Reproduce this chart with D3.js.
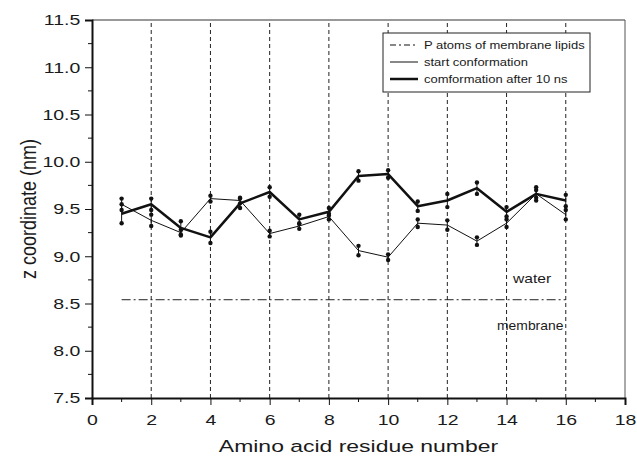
<!DOCTYPE html>
<html>
<head>
<meta charset="utf-8">
<script src="https://cdn.jsdelivr.net/npm/d3@7"></script>
<style>
  body { margin: 0; background: #fff; }
  svg text { font-family: "Liberation Sans", Arial, sans-serif; fill: #1a1a1a; }
</style>
</head>
<body>
<div id="chart"></div>
<script>
// residues along the peptide
var residues = [1, 2, 3, 4, 5, 6, 7, 8, 9, 10, 11, 12, 13, 14, 15, 16];
// start conformation (thin line), z in nm, and half error bar
var startZ   = [9.55, 9.38, 9.25, 9.61, 9.59, 9.24, 9.32, 9.42, 9.06, 8.99, 9.35, 9.33, 9.16, 9.35, 9.66, 9.44];
var startErr = [0.06, 0.06, 0.03, 0.03, 0.03, 0.03, 0.03, 0.03, 0.05, 0.03, 0.04, 0.05, 0.04, 0.04, 0.04, 0.05];
// conformation after 10 ns (thick line)
var afterZ   = [9.45, 9.55, 9.30, 9.20, 9.56, 9.68, 9.39, 9.47, 9.85, 9.87, 9.53, 9.59, 9.72, 9.47, 9.66, 9.59];
var afterErr = [0.10, 0.06, 0.07, 0.06, 0.05, 0.05, 0.05, 0.04, 0.05, 0.04, 0.05, 0.07, 0.06, 0.05, 0.07, 0.06];
// P atoms of membrane lipids
var lipidZ = 8.54;
var lipidRange = [1, 16];

var xTicks = [0, 2, 4, 6, 8, 10, 12, 14, 16, 18];
var yTicks = [7.5, 8.0, 8.5, 9.0, 9.5, 10.0, 10.5, 11.0, 11.5];
var legendLabels = ["P atoms of membrane lipids", "start conformation", "comformation after 10 ns"];

var width = 637, height = 462;
var margin = {top: 20, right: 12, bottom: 64, left: 92};
// the original figure is stretched sideways, so the glyphs are too
var stretch = 1.3;

var svg = d3.select("#chart").append("svg")
  .attr("width", width).attr("height", height);

var xscale = d3.scaleLinear().domain([0, 18]).range([margin.left, width - margin.right]);
var yscale = d3.scaleLinear().domain([7.5, 11.5]).range([height - margin.bottom, margin.top]);

// dashed grid at even residues
svg.append("g").selectAll("line")
  .data(xTicks.filter(function(d) { return d > 0 && d < 18; }))
  .enter().append("line")
  .attr("x1", function(d) { return xscale(d); })
  .attr("x2", function(d) { return xscale(d); })
  .attr("y1", yscale(7.5)).attr("y2", yscale(11.5))
  .attr("stroke", "#222").attr("stroke-width", 1).attr("stroke-dasharray", "4,3");

// top / right frame
svg.append("line").attr("x1", xscale(0)).attr("x2", xscale(18))
  .attr("y1", yscale(11.5)).attr("y2", yscale(11.5)).attr("stroke", "#333").attr("stroke-width", 1);
svg.append("line").attr("x1", xscale(18)).attr("x2", xscale(18))
  .attr("y1", yscale(11.5)).attr("y2", yscale(7.5)).attr("stroke", "#555").attr("stroke-width", 1);

// axes
var xaxis = d3.axisBottom(xscale).tickValues(xTicks).tickSize(7).tickPadding(9).tickFormat(d3.format("d"));
var gx = svg.append("g").attr("transform", "translate(0," + yscale(7.5) + ")").call(xaxis);
gx.append("g").selectAll("line")
  .data(d3.range(1, 18, 2)).enter().append("line")
  .attr("x1", function(d) { return xscale(d); }).attr("x2", function(d) { return xscale(d); })
  .attr("y1", 0).attr("y2", 4).attr("stroke", "#111");

var yaxis = d3.axisLeft(yscale).tickValues(yTicks).tickSize(7).tickPadding(2).tickFormat(d3.format(".1f"));
var gy = svg.append("g").attr("transform", "translate(" + xscale(0) + ",0)").call(yaxis);
gy.append("g").selectAll("line")
  .data(d3.range(7.75, 11.5, 0.5)).enter().append("line")
  .attr("x1", 0).attr("x2", -4)
  .attr("y1", function(d) { return yscale(d); }).attr("y2", function(d) { return yscale(d); })
  .attr("stroke", "#111");

[gx, gy].forEach(function(g) {
  g.select(".domain").attr("stroke", "#111").attr("stroke-width", 2);
  g.selectAll(".tick line").attr("stroke", "#111");
  g.selectAll(".tick text").attr("font-size", 15).attr("fill", "#1a1a1a")
    .attr("transform", "scale(" + stretch + ",1)")
    .style("font-family", "'Liberation Sans', Arial, sans-serif");
});

// axis titles
svg.append("text")
  .attr("transform", "translate(" + ((xscale(0) + xscale(18)) / 2) + ",452) scale(1.35,1)")
  .attr("text-anchor", "middle").attr("font-size", 17).text("Amino acid residue number");
svg.append("text")
  .attr("transform", "translate(36," + ((yscale(7.5) + yscale(11.5)) / 2) + ") scale(1.25,1) rotate(-90)")
  .attr("text-anchor", "middle").attr("font-size", 18).text("z coordinate (nm)");

// lipid P-atom level
svg.append("line")
  .attr("x1", xscale(lipidRange[0])).attr("x2", xscale(lipidRange[1]))
  .attr("y1", yscale(lipidZ)).attr("y2", yscale(lipidZ))
  .attr("stroke", "#222").attr("stroke-width", 1).attr("stroke-dasharray", "9,3,2,3");

svg.append("text").attr("transform", "translate(513,283) scale(1.2,1)").attr("font-size", 13).text("water");
svg.append("text").attr("transform", "translate(497,330) scale(1.07,1)").attr("font-size", 13).text("membrane");

function drawSeries(vals, errs, lw) {
  var pts = residues.map(function(r, i) { return [r, vals[i], errs[i]]; });
  var line = d3.line().x(function(d) { return xscale(d[0]); }).y(function(d) { return yscale(d[1]); });
  svg.append("path").datum(pts).attr("d", line)
    .attr("fill", "none").attr("stroke", "#111").attr("stroke-width", lw).attr("stroke-linejoin", "round");
  var g = svg.append("g");
  g.selectAll("line.err").data(pts).enter().append("line")
    .attr("x1", function(d) { return xscale(d[0]); }).attr("x2", function(d) { return xscale(d[0]); })
    .attr("y1", function(d) { return yscale(d[1] - d[2]); })
    .attr("y2", function(d) { return yscale(d[1] + d[2]); })
    .attr("stroke", "#111").attr("stroke-width", 1);
  [-1, 1].forEach(function(s) {
    g.selectAll(null).data(pts).enter().append("circle")
      .attr("cx", function(d) { return xscale(d[0]); })
      .attr("cy", function(d) { return yscale(d[1] + s * d[2]); })
      .attr("r", 2.2).attr("fill", "#111");
  });
}

drawSeries(startZ, startErr, 1);
drawSeries(afterZ, afterErr, 2.5);

// legend
var lg = svg.append("g");
lg.append("rect").attr("x", 383).attr("y", 33).attr("width", 207).attr("height", 59)
  .attr("fill", "#fff").attr("stroke", "#222").attr("stroke-width", 1);
var styles = [{w: 1, dash: "6,3,2,3"}, {w: 1, dash: null}, {w: 2.5, dash: null}];
legendLabels.forEach(function(lab, i) {
  var y = 45 + i * 17;
  lg.append("line").attr("x1", 390).attr("x2", 418).attr("y1", y).attr("y2", y)
    .attr("stroke", "#111").attr("stroke-width", styles[i].w)
    .attr("stroke-dasharray", styles[i].dash);
  lg.append("text").attr("transform", "translate(424," + (y + 4) + ") scale(1.3,1)")
    .attr("font-size", 10).text(lab);
});
</script>
</body>
</html>
